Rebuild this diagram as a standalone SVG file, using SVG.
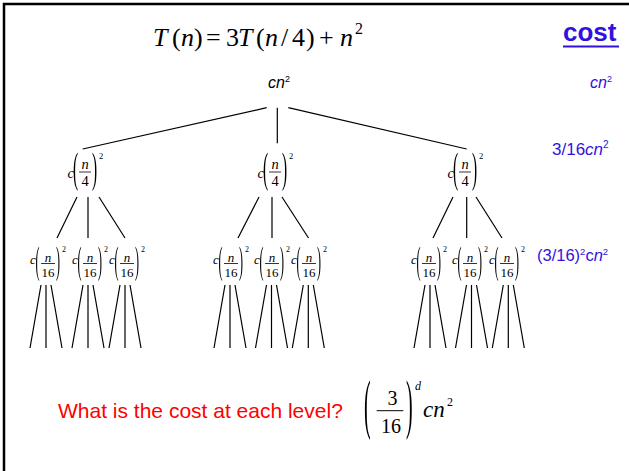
<svg xmlns="http://www.w3.org/2000/svg" width="629" height="471" viewBox="0 0 629 471">
<defs>
<filter id="gray" x="-50%" y="-20%" width="200%" height="140%"><feOffset dx="0" dy="0"/></filter>
</defs>
<style>
.tm{font-family:"Liberation Serif","Times New Roman",serif;fill:#000}
.ar{font-family:"Liberation Sans",Arial,sans-serif}
.it{font-style:italic}
.blue{fill:#3311dd}
.ln{stroke:#000;stroke-width:1.2;fill:none}
.bar{stroke:#000;stroke-width:0.8}
.pr{filter:url(#gray)}
</style>
<rect width="629" height="471" fill="#fff"/>
<path d="M4,471 V4 H629" fill="none" stroke="#000" stroke-width="2.5"/>

<g id="title" class="tm" font-size="26">
<text y="46"><tspan x="153" class="it">T</tspan><tspan x="172">(</tspan><tspan x="181" class="it">n</tspan><tspan x="194">)</tspan><tspan x="206">=</tspan><tspan x="226">3</tspan><tspan x="238" class="it">T</tspan><tspan x="256">(</tspan><tspan x="265" class="it">n</tspan><tspan x="281">/</tspan><tspan x="292">4</tspan><tspan x="306">)</tspan><tspan x="319">+</tspan><tspan x="340" class="it">n</tspan><tspan x="355" dy="-12" font-size="16">2</tspan></text>
</g>

<g id="cost-head">
<text x="563" y="41" class="ar blue" font-size="26" font-weight="bold">cost</text>
<line x1="563" y1="46.5" x2="619" y2="46.5" stroke="#3311dd" stroke-width="2.2"/>
</g>

<g id="cost-0"><text x="590" y="88" class="ar blue" font-size="16"><tspan class="it">cn</tspan><tspan font-size="9" dy="-6">2</tspan></text></g>
<g id="cost-1"><text x="552" y="155" class="ar blue" font-size="17">3/16<tspan class="it">cn</tspan><tspan font-size="10" dy="-7">2</tspan></text></g>
<g id="cost-2"><text x="537" y="261" class="ar blue" font-size="16.5">(3/16)<tspan font-size="9.5" dy="-6">2</tspan><tspan dy="6">c</tspan><tspan class="it">n</tspan><tspan font-size="9.5" dy="-6">2</tspan></text></g>

<g id="root"><text x="268" y="88" class="ar it" font-size="16">cn<tspan font-size="9" dy="-6" font-style="normal">2</tspan></text></g>

<g id="connectors" class="ln">
<path d="M266.7,107.7 L82.7,149 M277.3,107.7 L277.3,143.3 M288.3,107.7 L466.7,149"/>
<path d="M77,197 L57,238 M88,197 L88,238 M99,197 L125,238"/>
<path d="M259,197 L238,238 M272,197 L272,238 M282,197 L308.5,238"/>
<path d="M453,197 L433,238 M466.7,197 L466.7,238 M476,197 L502,238"/>
<path d="M41,285 L30,348 M46,285 L46,348 M51,285 L62,348"/>
<path d="M83,285 L72,348 M88,285 L88,348 M93,285 L104,348"/>
<path d="M120,285 L109,348 M125,285 L125,348 M130,285 L141,348"/>
<path d="M225,285 L214,348 M230,285 L230,348 M235,285 L246,348"/>
<path d="M266.5,285 L255.5,348 M271.5,285 L271.5,348 M276.5,285 L287.5,348"/>
<path d="M303.3,285 L292.3,348 M308.3,285 L308.3,348 M313.3,285 L324.3,348"/>
<path d="M425,285 L414,348 M430,285 L430,348 M435,285 L446,348"/>
<path d="M466.5,285 L455.5,348 M471.5,285 L471.5,348 M476.5,285 L487.5,348"/>
<path d="M503.3,285 L492.3,348 M508.3,285 L508.3,348 M513.3,285 L524.3,348"/>
</g>

<g id="l1a" class="tm" transform="translate(85,172)">
<text x="-17.5" y="6" class="it" font-size="14.5">c</text>
<g class="pr"><text transform="translate(-12,10.4) scale(1.1,3)" font-size="14">(</text><text transform="translate(7,10.4) scale(1.1,3)" font-size="14">)</text></g>
<text x="0" y="-3" text-anchor="middle" class="it" font-size="14.5">n</text>
<line class="bar" x1="-6" y1="0" x2="6" y2="0"/>
<text x="0" y="14" text-anchor="middle" font-size="14.5">4</text>
<text x="14" y="-13.5" font-size="8.5">2</text>
</g>
<g id="l1b" class="tm" transform="translate(275,172)">
<text x="-17.5" y="6" class="it" font-size="14.5">c</text>
<g class="pr"><text transform="translate(-12,10.4) scale(1.1,3)" font-size="14">(</text><text transform="translate(7,10.4) scale(1.1,3)" font-size="14">)</text></g>
<text x="0" y="-3" text-anchor="middle" class="it" font-size="14.5">n</text>
<line class="bar" x1="-6" y1="0" x2="6" y2="0"/>
<text x="0" y="14" text-anchor="middle" font-size="14.5">4</text>
<text x="14" y="-13.5" font-size="8.5">2</text>
</g>
<g id="l1c" class="tm" transform="translate(465,172)">
<text x="-17.5" y="6" class="it" font-size="14.5">c</text>
<g class="pr"><text transform="translate(-12,10.4) scale(1.1,3)" font-size="14">(</text><text transform="translate(7,10.4) scale(1.1,3)" font-size="14">)</text></g>
<text x="0" y="-3" text-anchor="middle" class="it" font-size="14.5">n</text>
<line class="bar" x1="-6" y1="0" x2="6" y2="0"/>
<text x="0" y="14" text-anchor="middle" font-size="14.5">4</text>
<text x="14" y="-13.5" font-size="8.5">2</text>
</g>

<g id="l2a" class="tm" transform="translate(48,263.5)">
<text x="-18" y="0" class="it" font-size="13">c</text>
<g class="pr"><text transform="translate(-12.5,9.85) scale(1,3.1)" font-size="12">(</text><text transform="translate(8,9.85) scale(1,3.1)" font-size="12">)</text></g>
<text x="0" y="-2" text-anchor="middle" class="it" font-size="13">n</text>
<line class="bar" x1="-7" y1="0" x2="7" y2="0"/>
<text x="0" y="13" text-anchor="middle" font-size="13">16</text>
<text x="14" y="-12" font-size="8">2</text>
</g>
<g id="l2b" class="tm" transform="translate(90,263.5)">
<text x="-18" y="0" class="it" font-size="13">c</text>
<g class="pr"><text transform="translate(-12.5,9.85) scale(1,3.1)" font-size="12">(</text><text transform="translate(8,9.85) scale(1,3.1)" font-size="12">)</text></g>
<text x="0" y="-2" text-anchor="middle" class="it" font-size="13">n</text>
<line class="bar" x1="-7" y1="0" x2="7" y2="0"/>
<text x="0" y="13" text-anchor="middle" font-size="13">16</text>
<text x="14" y="-12" font-size="8">2</text>
</g>
<g id="l2c" class="tm" transform="translate(127,263.5)">
<text x="-18" y="0" class="it" font-size="13">c</text>
<g class="pr"><text transform="translate(-12.5,9.85) scale(1,3.1)" font-size="12">(</text><text transform="translate(8,9.85) scale(1,3.1)" font-size="12">)</text></g>
<text x="0" y="-2" text-anchor="middle" class="it" font-size="13">n</text>
<line class="bar" x1="-7" y1="0" x2="7" y2="0"/>
<text x="0" y="13" text-anchor="middle" font-size="13">16</text>
<text x="14" y="-12" font-size="8">2</text>
</g>
<g id="l2d" class="tm" transform="translate(231,263.5)">
<text x="-18" y="0" class="it" font-size="13">c</text>
<g class="pr"><text transform="translate(-12.5,9.85) scale(1,3.1)" font-size="12">(</text><text transform="translate(8,9.85) scale(1,3.1)" font-size="12">)</text></g>
<text x="0" y="-2" text-anchor="middle" class="it" font-size="13">n</text>
<line class="bar" x1="-7" y1="0" x2="7" y2="0"/>
<text x="0" y="13" text-anchor="middle" font-size="13">16</text>
<text x="14" y="-12" font-size="8">2</text>
</g>
<g id="l2e" class="tm" transform="translate(272,263.5)">
<text x="-18" y="0" class="it" font-size="13">c</text>
<g class="pr"><text transform="translate(-12.5,9.85) scale(1,3.1)" font-size="12">(</text><text transform="translate(8,9.85) scale(1,3.1)" font-size="12">)</text></g>
<text x="0" y="-2" text-anchor="middle" class="it" font-size="13">n</text>
<line class="bar" x1="-7" y1="0" x2="7" y2="0"/>
<text x="0" y="13" text-anchor="middle" font-size="13">16</text>
<text x="14" y="-12" font-size="8">2</text>
</g>
<g id="l2f" class="tm" transform="translate(309,263.5)">
<text x="-18" y="0" class="it" font-size="13">c</text>
<g class="pr"><text transform="translate(-12.5,9.85) scale(1,3.1)" font-size="12">(</text><text transform="translate(8,9.85) scale(1,3.1)" font-size="12">)</text></g>
<text x="0" y="-2" text-anchor="middle" class="it" font-size="13">n</text>
<line class="bar" x1="-7" y1="0" x2="7" y2="0"/>
<text x="0" y="13" text-anchor="middle" font-size="13">16</text>
<text x="14" y="-12" font-size="8">2</text>
</g>
<g id="l2g" class="tm" transform="translate(429,263.5)">
<text x="-18" y="0" class="it" font-size="13">c</text>
<g class="pr"><text transform="translate(-12.5,9.85) scale(1,3.1)" font-size="12">(</text><text transform="translate(8,9.85) scale(1,3.1)" font-size="12">)</text></g>
<text x="0" y="-2" text-anchor="middle" class="it" font-size="13">n</text>
<line class="bar" x1="-7" y1="0" x2="7" y2="0"/>
<text x="0" y="13" text-anchor="middle" font-size="13">16</text>
<text x="14" y="-12" font-size="8">2</text>
</g>
<g id="l2h" class="tm" transform="translate(470,263.5)">
<text x="-18" y="0" class="it" font-size="13">c</text>
<g class="pr"><text transform="translate(-12.5,9.85) scale(1,3.1)" font-size="12">(</text><text transform="translate(8,9.85) scale(1,3.1)" font-size="12">)</text></g>
<text x="0" y="-2" text-anchor="middle" class="it" font-size="13">n</text>
<line class="bar" x1="-7" y1="0" x2="7" y2="0"/>
<text x="0" y="13" text-anchor="middle" font-size="13">16</text>
<text x="14" y="-12" font-size="8">2</text>
</g>
<g id="l2i" class="tm" transform="translate(507,263.5)">
<text x="-18" y="0" class="it" font-size="13">c</text>
<g class="pr"><text transform="translate(-12.5,9.85) scale(1,3.1)" font-size="12">(</text><text transform="translate(8,9.85) scale(1,3.1)" font-size="12">)</text></g>
<text x="0" y="-2" text-anchor="middle" class="it" font-size="13">n</text>
<line class="bar" x1="-7" y1="0" x2="7" y2="0"/>
<text x="0" y="13" text-anchor="middle" font-size="13">16</text>
<text x="14" y="-12" font-size="8">2</text>
</g>

<g id="question"><text x="58" y="418" class="ar" font-size="21" fill="#ff0000">What is the cost at each level?</text></g>

<g id="level-cost" class="tm">
<g class="pr"><text transform="translate(364,426.3) scale(1,3.3)" font-size="20">(</text><text transform="translate(406,426.3) scale(1,3.3)" font-size="20">)</text></g>
<text x="392.5" y="405" text-anchor="middle" font-size="20">3</text>
<line x1="376.7" y1="410.7" x2="403.3" y2="410.7" stroke="#000" stroke-width="1"/>
<text x="391" y="433" text-anchor="middle" font-size="20">16</text>
<text x="415" y="390" class="it" font-size="12">d</text>
<text x="423" y="416.7" class="it" font-size="23">cn</text>
<text x="447" y="406" font-size="12">2</text>
</g>
</svg>
